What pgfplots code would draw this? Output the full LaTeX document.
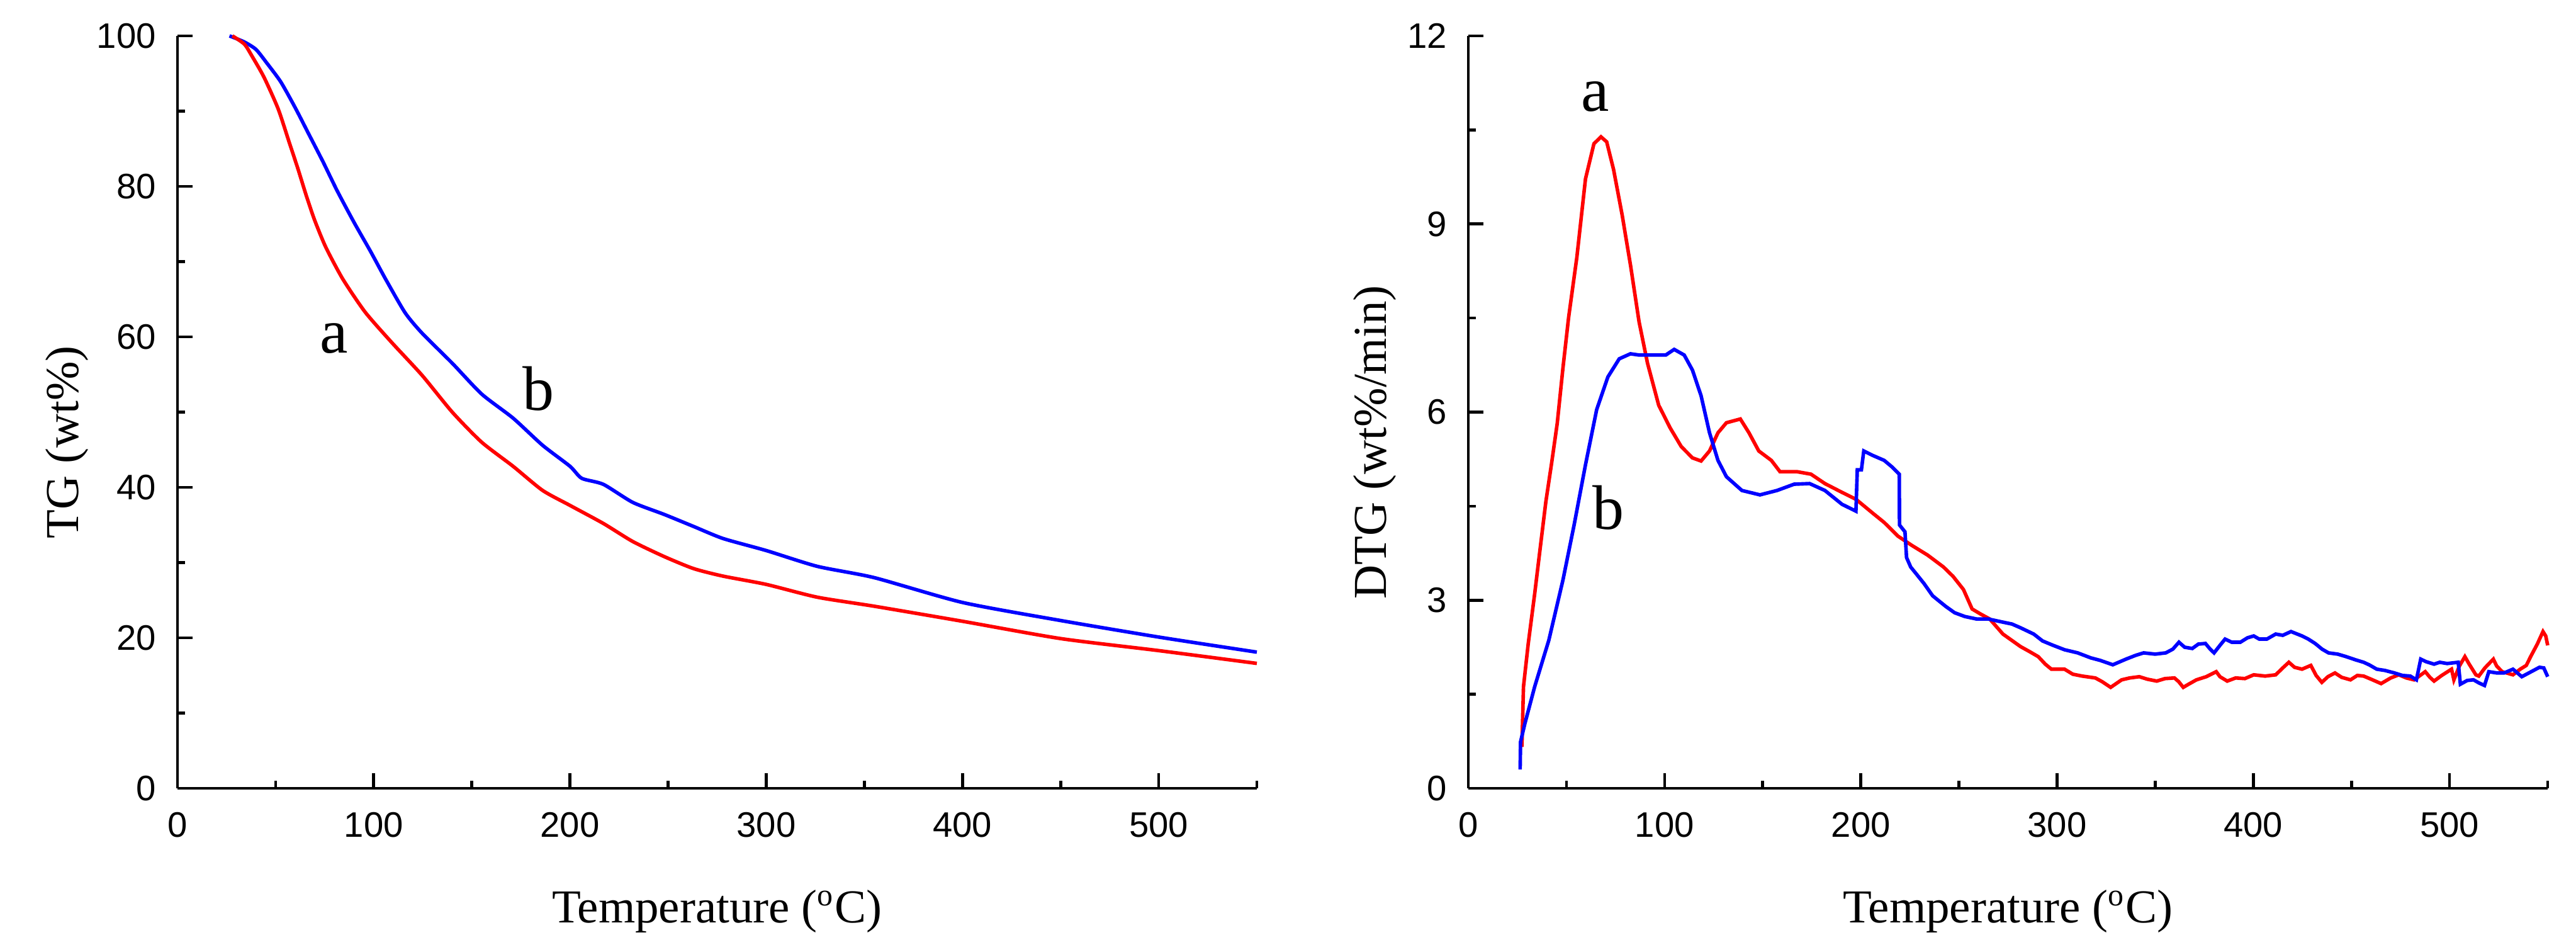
\documentclass[border=0pt]{standalone}
\usepackage{fontspec}
\setmainfont{Liberation Serif}
\newfontfamily\arial{Liberation Sans}
\usepackage{pgfplots}
\pgfplotsset{compat=1.18}
\pgfplotsset{
 tgstyle/.style={
  scale only axis, width=274.4pt, height=191.2pt,
  axis x line=bottom, axis y line=left,
  axis line style={-, line width=0.75pt},
  every tick/.style={black, line width=0.75pt},
  tick align=inside,
  major tick length=3.9pt, minor tick length=1.9pt,
  xmin=0, xmax=550, xtick={0,100,...,500}, minor xtick={50,150,...,550},
  ticklabel style={font=\arial\fontsize{9}{10}\selectfont},
  /pgf/number format/assume math mode=true,
  xticklabel style={inner sep=0pt, anchor=north, yshift=-5.9pt},
  yticklabel style={inner sep=0pt, anchor=east, xshift=-5.3pt},
  label style={font=\fontsize{12}{14}\selectfont},
  xlabel={Temperature (\textsuperscript{o}C)},
  xlabel style={at={(axis description cs:0.5,-0.179)}, anchor=base},
  clip=false,
 }
}
\begin{document}
\begin{tikzpicture}
\useasboundingbox (0,0) rectangle (654.88pt,241.76pt);
\begin{axis}[tgstyle,
  at={(45.12pt,41.44pt)}, anchor=south west,
  ymin=0, ymax=100, ytick={0,20,...,100}, minor ytick={10,30,...,90},
  ylabel={TG (wt\%)},
  ylabel style={at={(axis description cs:-0.0921,0.46)}, anchor=base, rotate=0},
]
\addplot[blue, line width=0.9pt, smooth, tension=0.4] table {
26.5 100
34 99.2
40 98.2
45.5 96.4
52.6 93.9
59.9 90.5
67 86.9
74.1 83.3
81.4 79.4
90 75.2
98.5 71.3
106 67.7
116 63.2
124.6 60.5
140 56.5
155 52.4
171 49.2
186 45.6
200 42.8
206 41.2
217 40.4
232 38
248 36.4
263 34.8
278 33.2
300 31.6
326 29.5
355 28.0
400 24.7
450 22.3
500 20.1
550 18.1
};
\addplot[red, line width=0.9pt, smooth, tension=0.4] table {
28 100
34.1 98.9
38 97.3
44.1 94.5
51.3 90.3
57 85.8
61.3 82.4
65.6 78.8
69.9 75.5
75.6 71.9
84.2 67.7
95.6 63.3
109 59.3
124.6 54.9
140 50
155 46
171 42.8
186 39.6
200 37.6
217 35.2
232 32.8
248 30.8
263 29.2
278 28.2
300 27.1
326 25.4
355 24.2
400 22.2
450 19.9
500 18.3
550 16.6
};
\node[font=\fontsize{16}{18}\selectfont] at (axis cs:79.9,59.8) {a};
\node[font=\fontsize{16}{18}\selectfont] at (axis cs:183.8,53.1) {b};
\end{axis}
\begin{axis}[tgstyle,
  at={(373.28pt,41.44pt)}, anchor=south west,
  ymin=0, ymax=12, ytick={0,3,...,12}, minor ytick={1.5,4.5,7.5,10.5},
  ylabel={DTG (wt\%/min)},
  ylabel style={at={(axis description cs:-0.0764,0.46)}, anchor=base, rotate=0},
]
\addplot[red, line width=0.9pt] table {
27.3 0.66
28.1 1.62
30.5 2.3
33.8 3.10
36.5 3.8
39.5 4.57
42.5 5.2
45.3 5.82
48.2 6.7
51.1 7.51
55.3 8.47
59.7 9.72
64 10.28
67.6 10.39
70.5 10.31
74 9.87
78.4 9.14
82.7 8.33
87 7.44
91.3 6.78
97 6.11
102.8 5.75
108.5 5.45
114.2 5.27
118.6 5.22
122.9 5.38
127.2 5.67
131.5 5.83
138.6 5.89
143 5.67
148 5.38
154.4 5.23
158.8 5.05
167.4 5.05
174.6 5.01
181.7 4.86
190.4 4.72
197.5 4.61
206 4.39
211.9 4.24
219 4.02
226.2 3.87
234 3.72
242.1 3.53
247 3.38
252.3 3.17
256.7 2.86
261 2.78
265.7 2.70
272.4 2.46
276 2.38
281.4 2.26
286 2.18
290.4 2.10
294 1.98
297.1 1.90
303.8 1.90
308 1.82
312.8 1.79
319.5 1.76
323 1.70
327.3 1.61
332.9 1.73
337 1.76
341.9 1.78
346 1.74
350.8 1.71
355 1.75
359.8 1.76
362 1.70
364.3 1.61
367 1.66
371 1.73
376 1.78
381.1 1.86
383 1.78
386.7 1.71
391 1.76
395.7 1.75
400.2 1.81
406 1.79
411.4 1.81
415 1.92
418.1 2.01
421 1.93
424.8 1.90
429.3 1.96
432 1.80
434.9 1.69
438 1.78
441.6 1.84
445 1.77
449.5 1.73
453 1.80
456.2 1.79
460 1.74
465.1 1.67
470 1.76
474.1 1.81
478 1.76
481.9 1.73
485 1.80
487.6 1.86
490 1.77
492.1 1.71
496 1.80
501 1.90
502.2 1.73
505 1.95
507.8 2.10
510 1.98
513.4 1.81
514.9 1.79
518 1.92
522.3 2.06
524 1.95
526.8 1.86
532.3 1.81
536 1.90
539.1 1.96
541.3 2.10
544.7 2.30
547.6 2.50
549 2.43
550 2.28
};
\addplot[blue, line width=0.9pt] table {
26.4 0.30
26.6 0.74
28.8 1.03
33.8 1.62
41 2.36
48.2 3.32
53.9 4.20
59.7 5.16
65.4 6.04
71.1 6.56
76.9 6.85
82.6 6.93
87 6.91
100.6 6.91
104.9 7.00
110 6.91
114.2 6.67
118.6 6.26
122.9 5.67
127.2 5.23
131.5 4.97
139.4 4.75
148.6 4.68
157.3 4.75
166 4.85
173.9 4.86
181.7 4.75
190.4 4.53
197.5 4.42
198.2 5.08
200.3 5.08
201.5 5.38
206 5.31
211.9 5.23
216.1 5.12
219.6 5.01
219.7 4.20
222.5 4.09
223.3 3.68
225.4 3.53
232.1 3.27
236.6 3.07
243.3 2.90
247.8 2.80
253 2.74
259 2.70
265 2.70
272.4 2.65
277 2.62
281.4 2.56
288.1 2.46
292.6 2.35
298 2.28
303.8 2.21
310.5 2.16
317.2 2.08
322 2.04
328.4 1.97
335.1 2.06
340 2.12
344.1 2.16
350 2.14
355.4 2.16
359 2.22
362.1 2.33
365 2.25
368.9 2.23
372 2.30
375.6 2.31
378 2.22
380 2.16
383 2.28
385.6 2.38
389 2.33
393.4 2.33
397 2.40
400.2 2.43
403 2.38
406.9 2.38
411.4 2.46
415 2.44
419.2 2.50
424.8 2.43
428 2.38
431.5 2.31
435 2.22
438.3 2.16
443 2.14
447.3 2.10
452 2.05
456.2 2.01
459 1.97
462.9 1.90
467 1.88
471.9 1.84
476 1.80
480 1.79
483.1 1.73
485.3 2.06
488 2.02
492.1 1.98
495 2.01
498.8 1.99
504.4 2.01
505.5 1.66
509 1.72
512.2 1.73
515 1.68
517.8 1.64
520 1.86
524 1.84
527.8 1.84
532.3 1.90
536.8 1.78
541 1.85
545.8 1.93
548 1.92
550 1.78
};
\node[font=\fontsize{16}{18}\selectfont] at (axis cs:64.8,11.03) {a};
\node[font=\fontsize{16}{18}\selectfont] at (axis cs:71.4,4.48) {b};
\end{axis}
\end{tikzpicture}
\end{document}
